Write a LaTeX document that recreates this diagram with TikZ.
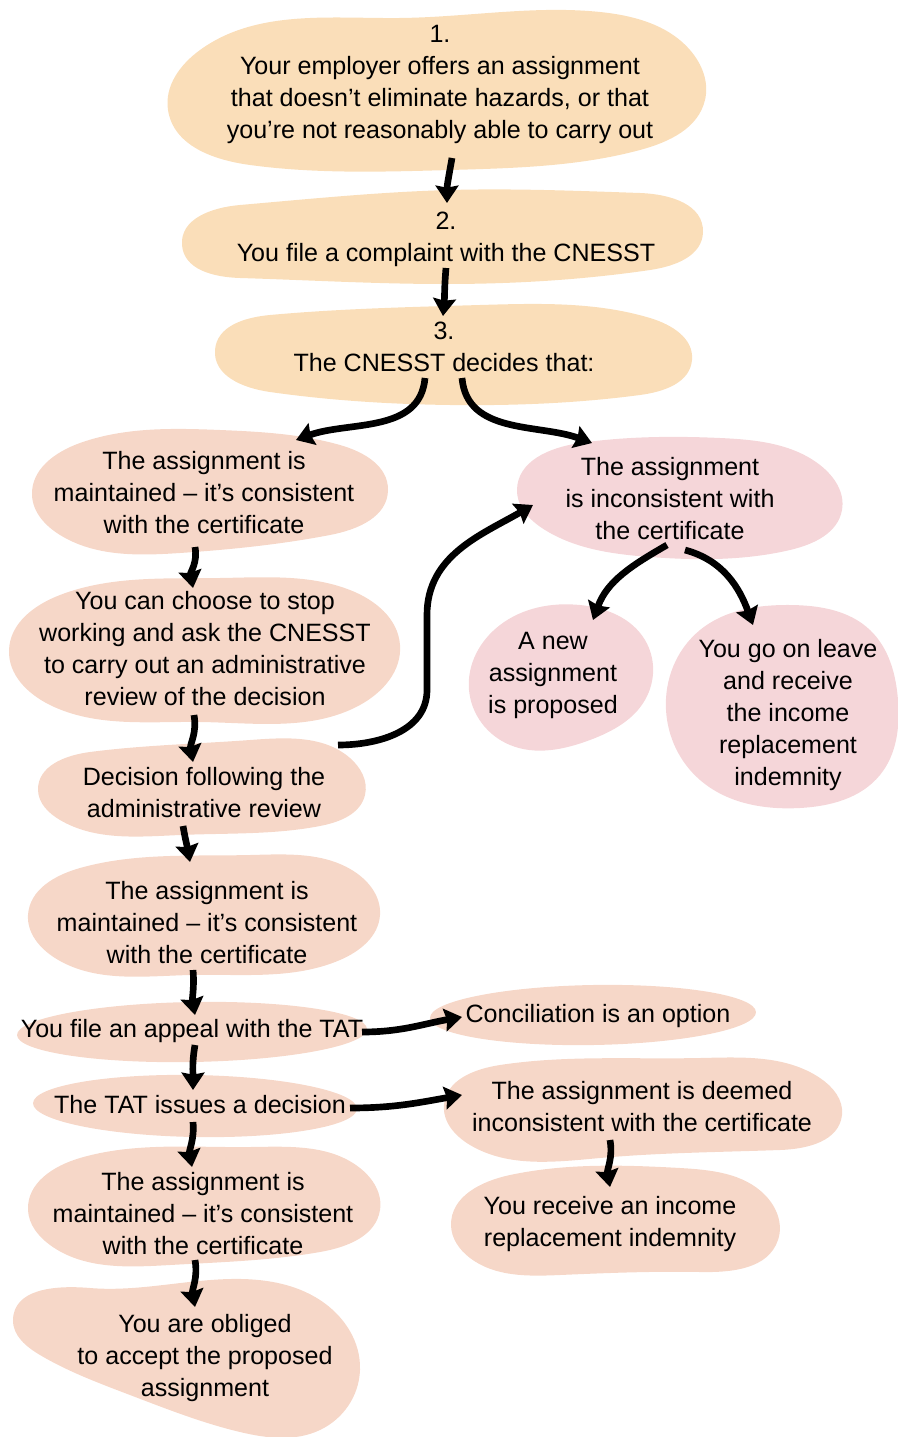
\documentclass[tikz,border=0pt]{standalone}
\usepackage{fontspec}
\setmainfont{Liberation Sans}
\usetikzlibrary{arrows.meta,hobby}
\definecolor{peach}{HTML}{FADEB9}
\definecolor{salmon}{HTML}{F6D7C8}
\definecolor{pinkb}{HTML}{F5D6D9}
\begin{document}
\begin{tikzpicture}[x=0.75pt,y=0.75pt,
  txt/.style={align=center,inner sep=0pt,font=\fontsize{18.8}{24}\selectfont},
  arr/.style={line width=5pt,-{Stealth[length=13pt,width=17pt,inset=1.5pt]}},
  blob/.style={use Hobby shortcut,closed=true}]
\useasboundingbox (0,0) rectangle (898,-1437);
% blobs
\fill[peach,blob] (168,-110) .. (200,-50) .. (400,-18) .. (600,-12) .. (690,-50) .. (705,-100) .. (640,-150) .. (450,-170) .. (250,-165);
\fill[peach,blob] (182,-245) .. (240,-205) .. (450,-190) .. (640,-193) .. (703,-232) .. (650,-270) .. (450,-284) .. (240,-278);
\fill[peach,blob] (215,-350) .. (270,-315) .. (480,-305) .. (650,-318) .. (692,-360) .. (640,-395) .. (450,-405) .. (270,-392);
\fill[salmon,blob] (32,-495) .. (80,-443) .. (220,-430) .. (340,-445) .. (388,-490) .. (330,-535) .. (180,-553) .. (60,-535);
\fill[pinkb,blob] (517,-490) .. (580,-443) .. (720,-438) .. (820,-465) .. (842,-510) .. (790,-550) .. (650,-557) .. (545,-530);
\fill[salmon,blob] (9,-650) .. (60,-595) .. (220,-578) .. (350,-590) .. (400,-645) .. (360,-705) .. (200,-722) .. (50,-705);
\fill[salmon,blob] (38,-790) .. (90,-752) .. (250,-740) .. (350,-758) .. (365,-795) .. (320,-826) .. (180,-835) .. (60,-820);
\fill[salmon,blob] (28,-915) .. (80,-868) .. (250,-855) .. (355,-872) .. (380,-915) .. (340,-960) .. (190,-975) .. (55,-958);
\fill[salmon,rotate around={1:(192,-1032)}] (192,-1032) ellipse [x radius=175, y radius=30];
\fill[salmon,rotate around={-1:(195,-1106)}] (195,-1106) ellipse [x radius=162, y radius=31];
\fill[salmon,blob] (28,-1210) .. (80,-1158) .. (250,-1147) .. (360,-1168) .. (380,-1210) .. (320,-1252) .. (170,-1265) .. (50,-1245);
\fill[salmon,blob] (13,-1320) .. (90,-1288) .. (230,-1279) .. (320,-1300) .. (360,-1370) .. (320,-1430) .. (240,-1432) .. (130,-1395) .. (40,-1355);
\fill[pinkb,blob] (469,-690) .. (500,-625) .. (580,-605) .. (645,-640) .. (645,-700) .. (590,-740) .. (510,-745);
\fill[pinkb,blob] (666,-710) .. (700,-630) .. (790,-605) .. (870,-630) .. (898,-700) .. (880,-775) .. (800,-808) .. (700,-780);
\fill[salmon,rotate around={1:(593,-1015)}] (593,-1015) ellipse [x radius=163, y radius=30];
\fill[salmon,blob] (444,-1105) .. (500,-1065) .. (700,-1058) .. (820,-1078) .. (842,-1115) .. (780,-1150) .. (600,-1158) .. (470,-1145);
\fill[salmon,blob] (451,-1225) .. (510,-1175) .. (680,-1168) .. (765,-1195) .. (778,-1240) .. (700,-1272) .. (560,-1275) .. (470,-1258);
% texts
\node[txt] (n1) at (440,-84) {1.\\Your employer offers an assignment\\that doesn’t eliminate hazards, or that\\you’re not reasonably able to carry out};
\node[txt] (n2) at (446,-239) {2.\\You file a complaint with the CNESST};
\node[txt] (n3) at (444,-347) {3.\\The CNESST decides that:};
\node[txt] (nA) at (204,-493) {The assignment is\\maintained – it’s consistent\\with the certificate};
\node[txt] (nB) at (670,-499) {The assignment\\is inconsistent with\\the certificate};
\node[txt] (nC) at (205,-649) {You can choose to stop\\working and ask the CNESST\\to carry out an administrative\\review of the decision};
\node[txt] (nD) at (204,-793) {Decision following the\\administrative review};
\node[txt] (nE) at (207,-923) {The assignment is\\maintained – it’s consistent\\with the certificate};
\node[txt] (nF) at (192,-1031) {You file an appeal with the TAT};
\node[txt] (nG) at (200,-1105) {The TAT issues a decision};
\node[txt] (nH) at (203,-1214) {The assignment is\\maintained – it’s consistent\\with the certificate};
\node[txt] (nI) at (205,-1358) {You are obliged\\to accept the proposed\\assignment};
\node[txt] (nJ) at (553,-675) {A new\\assignment\\is proposed};
\node[txt] (nK) at (788,-715) {You go on leave\\and receive\\the income\\replacement\\indemnity};
\node[txt] (nL) at (598,-1016) {Conciliation is an option};
\node[txt] (nM) at (642,-1107) {The assignment is deemed\\inconsistent with the certificate};
\node[txt] (nN) at (610,-1224) {You receive an income\\replacement indemnity};
\coordinate (b1) at (427,-690);
\coordinate (b2) at (427,-615);
% arrows
\draw[arr] ([shift={(12,-74)}]n1.center) to[out=-100,in=90] ([shift={(1,36)}]n2.center);
\draw[arr] ([shift={(0,-29)}]n2.center) to[out=-95,in=85] ([shift={(-1,31)}]n3.center);
\draw[arr] ([shift={(-19,-31)}]n3.center) to[out=-95,in=20] ([shift={(92,53)}]nA.center);
\draw[arr] ([shift={(18,-31)}]n3.center) to[out=-85,in=160] ([shift={(-78,56)}]nB.center);
\draw[arr] ([shift={(-9,-54)}]nA.center) to[out=-80,in=100] ([shift={(-12,61)}]nC.center);
\draw[arr] ([shift={(-11,-66)}]nC.center) to[out=-80,in=100] ([shift={(-11,31)}]nD.center);
\draw[arr] ([shift={(134,48)}]nD.center) to[out=0,in=-90] (b1) -- (b2) to[out=90,in=-150] ([shift={(-137,-6)}]nB.center);
\draw[arr] ([shift={(-3,-46)}]nB.center) to[out=210,in=70] ([shift={(40,55)}]nJ.center);
\draw[arr] ([shift={(15,-51)}]nB.center) to[out=-15,in=110] ([shift={(-35,90)}]nK.center);
\draw[arr] ([shift={(-21,-33)}]nD.center) to[out=-80,in=100] ([shift={(-17,61)}]nE.center);
\draw[arr] ([shift={(-14,-47)}]nE.center) to[out=-85,in=100] ([shift={(3,16)}]nF.center);
\draw[arr] ([shift={(170,-1)}]nF.center) to[out=0,in=190] ([shift={(-136,-1)}]nL.center);
\draw[arr] ([shift={(3,-14)}]nF.center) to[out=-100,in=90] ([shift={(-7,15)}]nG.center);
\draw[arr] ([shift={(150,-3)}]nG.center) to[out=0,in=190] ([shift={(-180,12)}]nM.center);
\draw[arr] ([shift={(-7,-17)}]nG.center) to[out=-85,in=100] ([shift={(-11,47)}]nH.center);
\draw[arr] ([shift={(-32,-33)}]nM.center) to[out=-80,in=100] ([shift={(0,37)}]nN.center);
\draw[arr] ([shift={(-8,-46)}]nH.center) to[out=-80,in=100] ([shift={(-10,51)}]nI.center);
\end{tikzpicture}
\end{document}
